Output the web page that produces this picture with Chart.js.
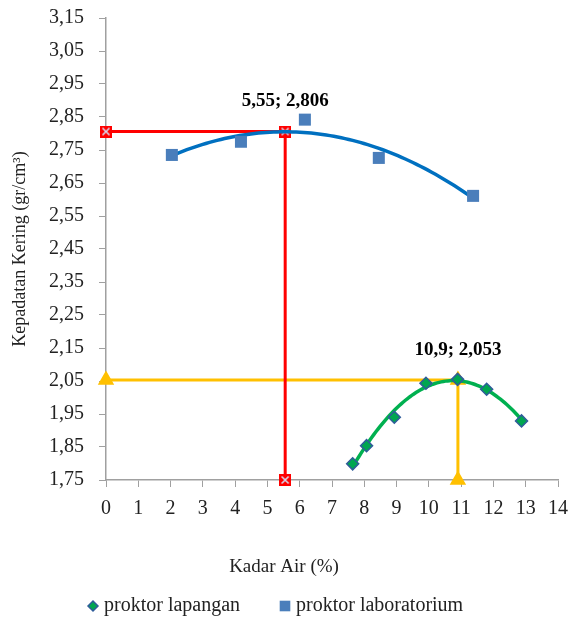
<!DOCTYPE html>
<html>
<head>
<meta charset="utf-8">
<script src="https://cdn.jsdelivr.net/npm/chart.js@4.4.0/dist/chart.umd.min.js"></script>
<style>
  html, body { margin: 0; padding: 0; background: #fff; }
  #wrap { width: 572px; height: 624px; }
</style>
</head>
<body>
<div id="wrap"><canvas id="chart"></canvas></div>
<script>
// proktor lapangan
const lapX = [7.64, 8.07, 8.93, 9.91, 10.89, 11.79, 12.87];
const lapY = [1.799, 1.854, 1.940, 2.043, 2.055, 2.025, 1.929];

// proktor laboratorium
const labX = [2.04, 4.18, 6.16, 8.45, 11.37];
const labY = [2.735, 2.775, 2.842, 2.726, 2.611];

// optimum points (kadar air, kepadatan kering)
const labPeak = [5.55, 2.806];
const lapPeak = [10.9, 2.053];

const xTicks = [0, 1, 2, 3, 4, 5, 6, 7, 8, 9, 10, 11, 12, 13, 14];
const yTicks = [1.75, 1.85, 1.95, 2.05, 2.15, 2.25, 2.35, 2.45, 2.55, 2.65, 2.75, 2.85, 2.95, 3.05, 3.15];

const xTitle = 'Kadar Air (%)';
const yTitle = 'Kepadatan Kering (gr/cm³)';

const SERIF = '"Liberation Serif", "Times New Roman", Times, serif';
const AXIS = '#a0a0a0';
Chart.defaults.font.family = SERIF;
Chart.defaults.color = '#222';

function toPoints(xs, ys) {
    return xs.map((x, i) => ({ x: x, y: ys[i] }));
}

// least squares 2nd order polynomial, like the excel trendline
function quadFit(xs, ys) {
    let s = [0, 0, 0, 0, 0], t = [0, 0, 0];
    xs.forEach((x, i) => {
        for (let k = 0; k < 5; k++) s[k] += Math.pow(x, k);
        for (let k = 0; k < 3; k++) t[k] += ys[i] * Math.pow(x, k);
    });
    let m = [
        [s[0], s[1], s[2], t[0]],
        [s[1], s[2], s[3], t[1]],
        [s[2], s[3], s[4], t[2]]
    ];
    for (let i = 0; i < 3; i++) {
        for (let j = i + 1; j < 3; j++) {
            let f = m[j][i] / m[i][i];
            for (let k = i; k < 4; k++) m[j][k] -= f * m[i][k];
        }
    }
    let c = [0, 0, 0];
    for (let i = 2; i >= 0; i--) {
        let v = m[i][3];
        for (let k = i + 1; k < 3; k++) v -= m[i][k] * c[k];
        c[i] = v / m[i][i];
    }
    return c;
}

function trendLine(xs, ys) {
    let c = quadFit(xs, ys);
    let a = Math.min(...xs), b = Math.max(...xs);
    let pts = [];
    for (let i = 0; i <= 80; i++) {
        let x = a + (b - a) * i / 80;
        pts.push({ x: x, y: c[0] + c[1] * x + c[2] * x * x });
    }
    return pts;
}

function guide(peak) {
    return [
        { x: xTicks[0], y: peak[1] },
        { x: peak[0], y: peak[1] },
        { x: peak[0], y: yTicks[0] }
    ];
}

// red square with a light cross, excel "x" marker
function crossMarker() {
    let c = document.createElement('canvas');
    c.width = 12; c.height = 12;
    let g = c.getContext('2d');
    g.fillStyle = '#ff0000';
    g.fillRect(0, 0, 12, 12);
    g.strokeStyle = '#d8d8ec';
    g.lineWidth = 1.6;
    g.beginPath();
    g.moveTo(2.5, 2.5); g.lineTo(9.5, 9.5);
    g.moveTo(9.5, 2.5); g.lineTo(2.5, 9.5);
    g.stroke();
    return c;
}

function comma(v) {
    return String(v).replace('.', ',');
}

const peakLabels = {
    id: 'peakLabels',
    afterDatasetsDraw(chart) {
        const ctx = chart.ctx;
        const xs = chart.scales.x, ys = chart.scales.y;
        ctx.save();
        ctx.font = 'bold 19px ' + SERIF;
        ctx.fillStyle = '#000';
        ctx.textAlign = 'center';
        ctx.textBaseline = 'middle';
        [labPeak, lapPeak].forEach(p => {
            ctx.fillText(comma(p[0]) + '; ' + comma(p[1]),
                xs.getPixelForValue(p[0]), ys.getPixelForValue(p[1]) - 30);
        });
        ctx.restore();
    }
};

// x title sits in the middle of the whole picture, plus the legend with the wide excel gap
const legendItems = [
    { index: 0, x: 93, radius: 5 },
    { index: 1, x: 285, radius: 7.5 }
];
const bottomText = {
    id: 'bottomText',
    afterDraw(chart) {
        const ctx = chart.ctx;
        ctx.save();
        ctx.font = '19px ' + SERIF;
        ctx.fillStyle = '#222';
        ctx.textAlign = 'center';
        ctx.textBaseline = 'middle';
        ctx.fillText(xTitle, chart.width / 2 - 2, 567);

        const y = 606;
        ctx.font = '20px ' + SERIF;
        ctx.textAlign = 'left';
        legendItems.forEach(it => {
            const ds = chart.data.datasets[it.index];
            ctx.fillStyle = ds.backgroundColor;
            ctx.strokeStyle = ds.borderColor;
            ctx.lineWidth = ds.borderWidth;
            Chart.helpers.drawPoint(ctx, { pointStyle: ds.pointStyle, radius: it.radius, borderWidth: ds.borderWidth }, it.x, y);
            ctx.fillStyle = '#222';
            ctx.fillText(ds.label, it.x + 11, y);
        });
        ctx.restore();
    }
};

new Chart(document.getElementById('chart'), {
    type: 'scatter',
    data: {
        datasets: [{
            label: 'proktor lapangan',
            data: toPoints(lapX, lapY),
            pointStyle: 'rectRot',
            pointRadius: 6,
            pointHoverRadius: 6,
            backgroundColor: '#00a650',
            borderColor: '#2f5c9a',
            borderWidth: 1.5,
            clip: false,
            order: 1
        }, {
            label: 'proktor laboratorium',
            data: toPoints(labX, labY),
            pointStyle: 'rect',
            pointRadius: 8.5,
            pointHoverRadius: 8.5,
            backgroundColor: '#4a7ebb',
            borderColor: '#4a7ebb',
            borderWidth: 0,
            clip: false,
            order: 2
        }, {
            label: 'trend lapangan',
            data: trendLine(lapX, lapY),
            showLine: true,
            pointRadius: 0,
            borderColor: '#00b050',
            borderWidth: 3.5,
            clip: false,
            order: 3
        }, {
            label: 'trend laboratorium',
            data: trendLine(labX, labY),
            showLine: true,
            pointRadius: 0,
            borderColor: '#0070c0',
            borderWidth: 3.5,
            clip: false,
            order: 3
        }, {
            label: 'garis lab',
            data: guide(labPeak),
            showLine: true,
            borderColor: '#ff0000',
            borderWidth: 3,
            pointStyle: crossMarker(),
            clip: false,
            order: 4
        }, {
            label: 'garis lapangan',
            data: guide(lapPeak),
            showLine: true,
            borderColor: '#ffc000',
            backgroundColor: '#ffc000',
            borderWidth: 3,
            pointStyle: 'triangle',
            pointRadius: 6.5,
            pointHoverRadius: 6.5,
            clip: false,
            order: 5
        }]
    },
    options: {
        responsive: true,
        maintainAspectRatio: false,
        animation: false,
        layout: { padding: { top: 18, right: 14, left: 0, bottom: 0 } },
        plugins: {
            tooltip: { enabled: false },
            legend: { display: false }
        },
        scales: {
            x: {
                type: 'linear',
                min: xTicks[0],
                max: xTicks[xTicks.length - 1],
                afterBuildTicks: s => { s.ticks = xTicks.map(v => ({ value: v })); },
                afterFit: s => { s.height = 144; s.paddingLeft = 0; s.paddingRight = 0; },
                ticks: {
                    color: '#222',
                    font: { family: SERIF, size: 20 },
                    padding: 10,
                    maxRotation: 0,
                    callback: v => comma(v)
                },
                grid: { drawOnChartArea: false, drawTicks: true, tickLength: 7, color: AXIS },
                border: { display: true, color: AXIS, width: 1.5 },
                title: { display: false }
            },
            y: {
                type: 'linear',
                min: yTicks[0],
                max: yTicks[yTicks.length - 1],
                afterBuildTicks: s => { s.ticks = yTicks.map(v => ({ value: v })); },
                afterFit: s => { s.width = 106; s.paddingTop = 0; s.paddingBottom = 0; },
                ticks: {
                    color: '#222',
                    font: { family: SERIF, size: 20 },
                    padding: 15,
                    callback: v => v.toFixed(2).replace('.', ',')
                },
                grid: { drawOnChartArea: false, drawTicks: true, tickLength: 7, color: AXIS },
                border: { display: true, color: AXIS, width: 1.5 },
                title: {
                    display: true,
                    text: yTitle,
                    color: '#222',
                    font: { family: SERIF, size: 18 },
                    padding: { top: 9, bottom: 0 }
                }
            }
        }
    },
    plugins: [peakLabels, bottomText]
});
</script>
</body>
</html>
